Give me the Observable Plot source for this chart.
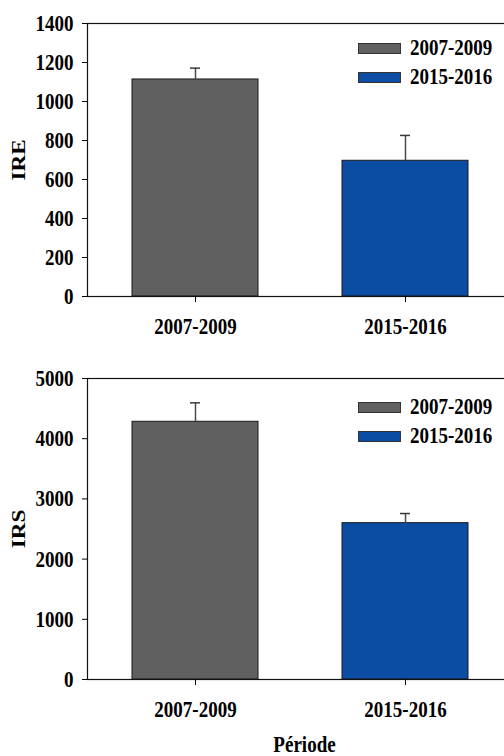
<!DOCTYPE html>
<html>
<head>
<meta charset="utf-8">
<script src="https://cdn.jsdelivr.net/npm/d3@7"></script>
<script src="https://cdn.jsdelivr.net/npm/@observablehq/plot@0.6"></script>
<style>
  html, body { margin: 0; padding: 0; overflow: hidden; background: #fff; }
  #wrap { position: relative; width: 504px; height: 756px; overflow: hidden; font-family: "Liberation Serif", "Times New Roman", serif; font-weight: bold; }
  .panel { position: absolute; left: 0; line-height: 0; }
  .panel svg { max-width: none !important; display: block; }
  .legend { position: absolute; font-size: 19px; color: #000; }
  .item { position: absolute; left: 0; white-space: nowrap; height: 20px; line-height: 20px; }
  .sw { position: absolute; left: 0; top: 5px; width: 41px; height: 9px; border: 1px solid #333; }
  .lab { position: absolute; left: 52px; top: 0; transform: scaleY(1.22); transform-origin: 50% 50%; }
</style>
</head>
<body>
<div id="wrap"></div>
<script>
// ---- data ----
const periods = ["2007-2009", "2015-2016"];
const colors = ["#606060", "#0b4da2"];
const ireMeans = [1113, 696];
const ireErrors = [58, 130];
const irsMeans = [4281, 2597];
const irsErrors = [315, 160];
const ireTicks = [0, 200, 400, 600, 800, 1000, 1200, 1400];
const irsTicks = [0, 1000, 2000, 3000, 4000, 5000];

const wrap = document.getElementById("wrap");

// the reference's lettering is stretched vertically: keep the 19px width, draw it taller
function stretchText(svg, base, factor, rotatedLabels) {
  svg.querySelectorAll("text").forEach(t => {
    t.style.fontSize = base + "px";
    const w = t.getComputedTextLength();
    if (rotatedLabels.includes(t.textContent)) {
      t.setAttribute("textLength", (w * factor).toFixed(1));
    } else {
      t.style.fontSize = (base * factor) + "px";
      t.setAttribute("textLength", w.toFixed(1));
    }
    t.setAttribute("lengthAdjust", "spacingAndGlyphs");
  });
}

function panel({means, errors, ticks, yLabel, top, height, marginTop, marginBottom, xLabel, legendTop}) {
  const data = periods.map((p, i) => ({period: p, value: means[i], upper: means[i] + errors[i], color: colors[i]}));
  const marks = [
    Plot.barY(data, {x: "period", y: "value", fill: "color", stroke: "#1a1a1a", strokeWidth: 1}),
    Plot.ruleX(data, {x: "period", y1: "value", y2: "upper", stroke: "#4a4a4a", strokeWidth: 1.5}),
    Plot.tickY(data, {x: "period", y: "upper", stroke: "#3a3a3a", strokeWidth: 1.5, insetLeft: 58, insetRight: 58}),
    Plot.frame({stroke: "#111", strokeWidth: 1.2}),
    Plot.axisY({ticks, tickSize: 5, tickPadding: 9, label: null, tickFormat: d => String(d)}),
    Plot.axisX({tickSize: 6, tickPadding: 15, label: null}),
    Plot.text([yLabel], {text: d => d, frameAnchor: "left", dx: -69, rotate: -90, textAnchor: "middle", lineAnchor: "middle", fontSize: 19, fontWeight: "bold", fill: "#000"})
  ];
  if (xLabel) {
    marks.push(Plot.text([xLabel], {text: d => d, frameAnchor: "bottom", dy: 65, dx: 4, textAnchor: "middle", lineAnchor: "middle", fontSize: 19, fontWeight: "bold", fill: "#000"}));
  }
  const chart = Plot.plot({
    width: 513,
    height,
    marginTop,
    marginBottom,
    marginLeft: 87,
    marginRight: 0,
    style: {fontFamily: "Liberation Serif, Times New Roman, serif", fontSize: "19px", fontWeight: "bold", color: "#000", background: "transparent", maxWidth: "none"},
    x: {domain: periods, paddingInner: 0.4, paddingOuter: 0.21},
    y: {domain: [ticks[0], ticks[ticks.length - 1]]},
    color: {type: "identity"},
    marks
  });
  const div = document.createElement("div");
  div.className = "panel";
  div.style.top = top + "px";
  div.appendChild(chart);
  wrap.appendChild(div);
  stretchText(chart, 19, 1.22, [yLabel]);

  const leg = document.createElement("div");
  leg.className = "legend";
  leg.style.left = "358px";
  leg.style.top = legendTop + "px";
  periods.forEach((p, i) => {
    const it = document.createElement("div");
    it.className = "item";
    it.style.top = (i * 29) + "px";
    const sw = document.createElement("div");
    sw.className = "sw";
    sw.style.background = colors[i];
    const lab = document.createElement("div");
    lab.className = "lab";
    lab.textContent = p;
    it.appendChild(sw);
    it.appendChild(lab);
    leg.appendChild(it);
  });
  wrap.appendChild(leg);
}

panel({means: ireMeans, errors: ireErrors, ticks: ireTicks, yLabel: "IRE", top: 0, height: 340, marginTop: 23, marginBottom: 44, xLabel: null, legendTop: 38});
panel({means: irsMeans, errors: irsErrors, ticks: irsTicks, yLabel: "IRS", top: 340, height: 416, marginTop: 38, marginBottom: 77, xLabel: "Période", legendTop: 397});
</script>
</body>
</html>
